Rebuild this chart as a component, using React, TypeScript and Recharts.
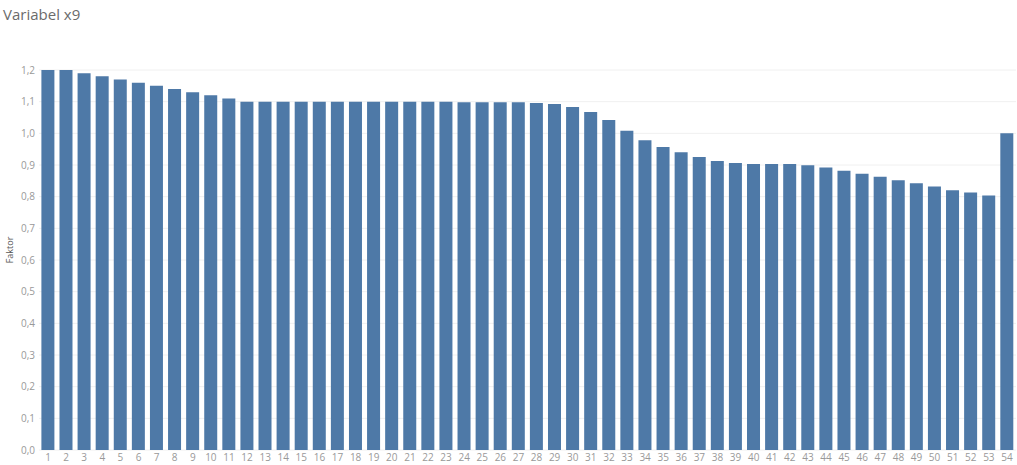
import { BarChart, Bar, XAxis, YAxis, CartesianGrid } from 'recharts';

const categories = [
  '1', '2', '3', '4', '5', '6', '7', '8', '9', '10',
  '11', '12', '13', '14', '15', '16', '17', '18', '19', '20',
  '21', '22', '23', '24', '25', '26', '27', '28', '29', '30',
  '31', '32', '33', '34', '35', '36', '37', '38', '39', '40',
  '41', '42', '43', '44', '45', '46', '47', '48', '49', '50',
  '51', '52', '53', '54'
];

const faktor = [
  1.2, 1.2, 1.19, 1.18, 1.17, 1.16, 1.15, 1.14, 1.13, 1.12,
  1.11, 1.1, 1.1, 1.1, 1.1, 1.1, 1.1, 1.1, 1.1, 1.1,
  1.1, 1.1, 1.1, 1.098, 1.098, 1.098, 1.098, 1.096, 1.093, 1.083,
  1.067, 1.042, 1.008, 0.978, 0.957, 0.94, 0.925, 0.913, 0.906, 0.903,
  0.903, 0.903, 0.899, 0.892, 0.882, 0.872, 0.863, 0.852, 0.842, 0.832,
  0.82, 0.813, 0.804, 1.0
];

const yTicks = [0, 0.1, 0.2, 0.3, 0.4, 0.5, 0.6, 0.7, 0.8, 0.9, 1.0, 1.1, 1.2];

const data = categories.map((c, i) => ({ cat: c, faktor: faktor[i] }));

const fmt = (v: number) => v.toFixed(1).replace('.', ',');

export default function App() {
  return (
    <div style={{ position: 'absolute', left: 0, top: 0, width: 1017, height: 465, background: '#fff', fontFamily: '"Open Sans", sans-serif' }}>
      <div style={{ position: 'absolute', left: 3, top: 4, fontSize: 15, color: '#6b6b6b', lineHeight: '20px' }}>Variabel x9</div>
      <BarChart
        width={1017}
        height={465}
        data={data}
        margin={{ top: 70, right: 1, bottom: 0, left: 0 }}
        barCategoryGap={2.4}
      >
        <CartesianGrid vertical={false} stroke="#f0f0f0" />
        <XAxis
          dataKey="cat"
          interval={0}
          tickLine={false}
          axisLine={false}
          tickSize={0}
          tickMargin={4}
          height={15}
          tick={{ fill: '#999', fontSize: 10 }}
        />
        <YAxis
          domain={[0, 1.2]}
          ticks={yTicks}
          tickFormatter={fmt}
          width={39}
          tickLine={false}
          axisLine={false}
          tickSize={0}
          tickMargin={4}
          tick={{ fill: '#999', fontSize: 10 }}
          label={{ value: 'Faktor', angle: -90, position: 'insideLeft', offset: 10, dy: -10, style: { fill: '#555', fontSize: 9, textAnchor: 'middle' } }}
        />
        <Bar dataKey="faktor" fill="#4e79a7" isAnimationActive={false} />
      </BarChart>
    </div>
  );
}
